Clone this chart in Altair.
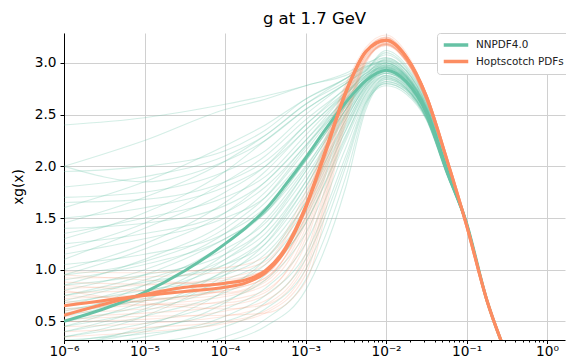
import altair as alt
import pandas as pd

# x nodes (momentum fraction) for replica curves
X_NODES = [1e-6, 1e-5, 1e-4, 3.162e-4, 1e-3, 3.162e-3, 5.623e-3, 1e-2,
           1.778e-2, 3.162e-2, 5.623e-2, 1e-1, 1.778e-1, 3.162e-1]

# denser x nodes for the central curves
X_NODES_C = [1e-6, 1e-5, 3.162e-5, 1e-4, 1.778e-4, 3.162e-4, 5.623e-4, 1e-3,
             1.778e-3, 3.162e-3, 5.623e-3, 1e-2, 1.778e-2, 3.162e-2, 5.623e-2,
             1e-1, 1.778e-1, 3.162e-1]

NNPDF_CENTRAL = [0.50, 0.78, 0.99, 1.25, 1.40, 1.58, 1.82, 2.08, 2.36, 2.62,
                 2.83, 2.93, 2.82, 2.52, 1.97, 1.45, 0.71, 0.17]
HOPT_CENTRAL_A = [0.56, 0.76, 0.83, 0.87, 0.90, 0.99, 1.21, 1.61, 2.16, 2.72,
                  3.11, 3.22, 3.06, 2.68, 2.08, 1.43, 0.71, 0.17]
HOPT_CENTRAL_B = [0.65, 0.75, 0.79, 0.83, 0.87, 0.97, 1.19, 1.59, 2.14, 2.71,
                  3.11, 3.22, 3.06, 2.68, 2.08, 1.43, 0.71, 0.17]

NNPDF_REPLICAS = [
    [2.40, 2.47, 2.60, 2.68, 2.78, 2.90, 3.00, 3.05, 2.93, 2.60, 2.01, 1.47, 0.72, 0.17],
    [2.00, 2.25, 2.55, 2.65, 2.78, 2.88, 2.97, 3.02, 2.90, 2.58, 2.00, 1.46, 0.72, 0.17],
    [2.00, 1.85, 2.05, 2.25, 2.55, 2.80, 2.93, 3.00, 2.88, 2.57, 2.00, 1.46, 0.72, 0.17],
    [1.60, 1.85, 2.20, 2.40, 2.65, 2.85, 2.98, 3.08, 2.95, 2.62, 2.02, 1.47, 0.73, 0.17],
    [1.45, 1.70, 2.05, 2.30, 2.60, 2.82, 2.95, 3.03, 2.92, 2.60, 2.01, 1.47, 0.72, 0.17],
    [1.80, 1.90, 2.10, 2.30, 2.60, 2.85, 2.96, 3.00, 2.87, 2.56, 1.99, 1.46, 0.72, 0.17],
    [1.30, 1.55, 1.95, 2.25, 2.55, 2.80, 2.92, 2.98, 2.86, 2.55, 1.99, 1.45, 0.72, 0.17],
    [1.20, 1.45, 1.85, 2.10, 2.45, 2.75, 2.90, 2.96, 2.85, 2.54, 1.98, 1.45, 0.72, 0.17],
    [1.10, 1.40, 1.75, 2.00, 2.40, 2.72, 2.88, 2.95, 2.84, 2.54, 1.98, 1.45, 0.72, 0.17],
    [1.00, 1.25, 1.65, 1.95, 2.35, 2.70, 2.86, 2.93, 2.82, 2.53, 1.97, 1.45, 0.71, 0.17],
    [0.95, 1.20, 1.55, 1.85, 2.25, 2.65, 2.84, 2.92, 2.81, 2.52, 1.97, 1.45, 0.71, 0.17],
    [0.85, 1.10, 1.45, 1.75, 2.20, 2.62, 2.83, 2.93, 2.82, 2.52, 1.97, 1.45, 0.71, 0.17],
    [0.80, 1.00, 1.35, 1.65, 2.10, 2.60, 2.82, 2.94, 2.83, 2.53, 1.97, 1.45, 0.71, 0.17],
    [0.75, 0.95, 1.30, 1.55, 2.05, 2.58, 2.80, 2.90, 2.80, 2.51, 1.96, 1.44, 0.71, 0.17],
    [0.70, 0.90, 1.20, 1.45, 1.95, 2.55, 2.80, 2.91, 2.80, 2.51, 1.96, 1.44, 0.71, 0.17],
    [0.65, 0.85, 1.10, 1.35, 1.85, 2.50, 2.78, 2.90, 2.79, 2.50, 1.96, 1.44, 0.71, 0.17],
    [0.60, 0.78, 1.05, 1.30, 1.80, 2.48, 2.76, 2.88, 2.78, 2.50, 1.95, 1.44, 0.71, 0.17],
    [0.55, 0.72, 0.98, 1.20, 1.70, 2.42, 2.74, 2.87, 2.77, 2.49, 1.95, 1.44, 0.71, 0.17],
    [0.50, 0.65, 0.90, 1.10, 1.60, 2.38, 2.72, 2.86, 2.76, 2.48, 1.95, 1.43, 0.71, 0.17],
    [0.45, 0.60, 0.85, 1.05, 1.55, 2.35, 2.70, 2.85, 2.76, 2.48, 1.94, 1.43, 0.71, 0.17],
    [0.40, 0.55, 0.78, 0.98, 1.45, 2.30, 2.68, 2.84, 2.75, 2.47, 1.94, 1.43, 0.70, 0.17],
    [0.35, 0.48, 0.70, 0.90, 1.35, 2.25, 2.66, 2.82, 2.74, 2.47, 1.94, 1.43, 0.70, 0.17],
    [0.30, 0.42, 0.62, 0.82, 1.25, 2.18, 2.64, 2.80, 2.72, 2.46, 1.93, 1.43, 0.70, 0.17],
    [0.25, 0.35, 0.55, 0.75, 1.15, 2.10, 2.62, 2.78, 2.70, 2.45, 1.93, 1.42, 0.70, 0.17],
    [0.20, 0.28, 0.45, 0.62, 1.00, 2.00, 2.60, 2.80, 2.72, 2.46, 1.93, 1.43, 0.70, 0.17],
    [0.15, 0.20, 0.35, 0.52, 0.90, 1.90, 2.58, 2.84, 2.75, 2.47, 1.94, 1.43, 0.70, 0.17],
    [1.50, 1.60, 1.80, 2.00, 2.35, 2.72, 2.90, 3.00, 2.88, 2.57, 2.00, 1.46, 0.72, 0.17],
    [1.35, 1.50, 1.70, 1.90, 2.30, 2.70, 2.88, 2.97, 2.86, 2.56, 1.99, 1.45, 0.72, 0.17],
    [1.70, 1.75, 1.95, 2.15, 2.50, 2.80, 2.94, 3.02, 2.90, 2.58, 2.00, 1.46, 0.72, 0.17],
    [0.90, 1.05, 1.30, 1.55, 2.00, 2.55, 2.82, 2.95, 2.84, 2.54, 1.98, 1.45, 0.71, 0.17],
    [0.55, 0.85, 1.25, 1.55, 2.05, 2.60, 2.85, 2.97, 2.86, 2.55, 1.98, 1.45, 0.71, 0.17],
    [0.45, 0.70, 1.10, 1.40, 1.95, 2.55, 2.84, 2.98, 2.87, 2.56, 1.99, 1.45, 0.72, 0.17],
    [0.75, 0.88, 1.05, 1.25, 1.75, 2.45, 2.78, 2.92, 2.81, 2.52, 1.96, 1.44, 0.71, 0.17],
    [0.62, 0.70, 0.82, 0.98, 1.50, 2.35, 2.74, 2.90, 2.80, 2.51, 1.96, 1.44, 0.71, 0.17],
    [1.05, 1.15, 1.35, 1.60, 2.05, 2.60, 2.86, 3.00, 2.88, 2.57, 1.99, 1.46, 0.72, 0.17],
    [1.25, 1.35, 1.55, 1.80, 2.20, 2.68, 2.92, 3.10, 2.96, 2.63, 2.02, 1.47, 0.73, 0.17],
    [0.35, 0.55, 0.95, 1.25, 1.80, 2.50, 2.80, 2.95, 2.84, 2.54, 1.98, 1.45, 0.71, 0.17],
    [0.25, 0.45, 0.80, 1.10, 1.65, 2.45, 2.78, 2.94, 2.83, 2.53, 1.97, 1.45, 0.71, 0.17],
    [0.68, 0.80, 0.95, 1.15, 1.65, 2.40, 2.76, 2.92, 2.81, 2.52, 1.97, 1.44, 0.71, 0.17],
    [0.85, 0.95, 1.15, 1.40, 1.90, 2.52, 2.82, 2.96, 2.85, 2.55, 1.98, 1.45, 0.71, 0.17],
    [0.10, 0.18, 0.30, 0.45, 0.80, 1.80, 2.55, 2.82, 2.74, 2.47, 1.94, 1.43, 0.70, 0.17],
    [1.95, 2.00, 2.15, 2.35, 2.65, 2.85, 2.96, 3.05, 2.93, 2.60, 2.01, 1.47, 0.72, 0.17],
    [1.15, 1.30, 1.50, 1.70, 2.15, 2.65, 2.88, 3.04, 2.92, 2.59, 2.01, 1.46, 0.72, 0.17],
    [0.40, 0.62, 1.00, 1.30, 1.85, 2.55, 2.84, 2.98, 2.87, 2.56, 1.99, 1.45, 0.72, 0.17],
    [0.28, 0.40, 0.68, 0.95, 1.45, 2.28, 2.70, 2.88, 2.78, 2.50, 1.95, 1.44, 0.71, 0.17],
    [1.65, 1.68, 1.85, 2.05, 2.40, 2.76, 2.93, 3.12, 2.98, 2.64, 2.03, 1.48, 0.73, 0.17],
    [0.58, 0.75, 1.15, 1.48, 1.98, 2.58, 2.83, 2.96, 2.85, 2.55, 1.98, 1.45, 0.71, 0.17],
    [0.95, 1.08, 1.40, 1.70, 2.18, 2.66, 2.87, 2.99, 2.87, 2.56, 1.99, 1.45, 0.72, 0.17],
    [0.32, 0.38, 0.50, 0.68, 1.10, 2.05, 2.62, 2.86, 2.76, 2.48, 1.94, 1.43, 0.70, 0.17],
    [1.40, 1.45, 1.62, 1.85, 2.25, 2.70, 2.90, 3.01, 2.89, 2.57, 2.00, 1.46, 0.72, 0.17],
]

HOPT_REPLICAS = [
    [0.98, 0.97, 1.02, 1.12, 1.75, 2.80, 3.15, 3.27, 3.10, 2.70, 2.10, 1.44, 0.72, 0.17],
    [0.92, 0.93, 0.98, 1.08, 1.70, 2.78, 3.13, 3.25, 3.08, 2.69, 2.09, 1.44, 0.72, 0.17],
    [0.88, 0.86, 0.92, 1.05, 1.68, 2.76, 3.12, 3.24, 3.07, 2.68, 2.09, 1.43, 0.71, 0.17],
    [0.82, 0.85, 0.90, 1.00, 1.60, 2.74, 3.11, 3.23, 3.06, 2.68, 2.08, 1.43, 0.71, 0.17],
    [0.78, 0.80, 0.86, 0.98, 1.55, 2.72, 3.10, 3.22, 3.06, 2.67, 2.08, 1.43, 0.71, 0.17],
    [0.75, 0.72, 0.80, 0.92, 1.50, 2.70, 3.09, 3.22, 3.05, 2.67, 2.08, 1.43, 0.71, 0.17],
    [0.72, 0.76, 0.83, 0.95, 1.58, 2.73, 3.10, 3.21, 3.05, 2.66, 2.07, 1.43, 0.71, 0.17],
    [0.68, 0.70, 0.76, 0.88, 1.45, 2.68, 3.08, 3.20, 3.04, 2.66, 2.07, 1.42, 0.71, 0.17],
    [0.62, 0.66, 0.74, 0.85, 1.40, 2.66, 3.07, 3.19, 3.03, 2.65, 2.07, 1.42, 0.70, 0.17],
    [0.58, 0.62, 0.70, 0.80, 1.30, 2.62, 3.06, 3.18, 3.03, 2.65, 2.06, 1.42, 0.70, 0.17],
    [0.55, 0.58, 0.65, 0.75, 1.25, 2.60, 3.05, 3.18, 3.02, 2.64, 2.06, 1.42, 0.70, 0.17],
    [0.50, 0.52, 0.60, 0.70, 1.15, 2.55, 3.04, 3.17, 3.02, 2.64, 2.06, 1.42, 0.70, 0.17],
    [0.45, 0.48, 0.55, 0.66, 1.10, 2.52, 3.03, 3.17, 3.01, 2.63, 2.05, 1.42, 0.70, 0.17],
    [0.40, 0.44, 0.50, 0.60, 1.00, 2.48, 3.02, 3.18, 3.02, 2.64, 2.06, 1.42, 0.70, 0.17],
    [0.35, 0.40, 0.48, 0.58, 0.95, 2.45, 3.01, 3.19, 3.03, 2.65, 2.07, 1.42, 0.70, 0.17],
    [0.85, 0.80, 0.78, 0.90, 1.52, 2.71, 3.10, 3.23, 3.06, 2.67, 2.08, 1.43, 0.71, 0.17],
    [0.65, 0.74, 0.88, 1.00, 1.62, 2.75, 3.12, 3.24, 3.07, 2.68, 2.08, 1.43, 0.71, 0.17],
    [0.95, 0.90, 0.85, 0.95, 1.58, 2.73, 3.11, 3.25, 3.08, 2.69, 2.09, 1.44, 0.72, 0.17],
    [0.60, 0.70, 0.80, 0.92, 1.48, 2.70, 3.09, 3.21, 3.05, 2.67, 2.08, 1.43, 0.71, 0.17],
    [0.70, 0.66, 0.68, 0.78, 1.35, 2.64, 3.07, 3.20, 3.04, 2.66, 2.07, 1.42, 0.71, 0.17],
    [0.52, 0.55, 0.56, 0.58, 0.88, 2.42, 3.00, 3.18, 3.02, 2.64, 2.06, 1.42, 0.70, 0.17],
    [0.80, 0.68, 0.62, 0.66, 1.05, 2.50, 3.03, 3.19, 3.03, 2.65, 2.07, 1.42, 0.70, 0.17],
]

SERIES = ["NNPDF4.0", "Hoptscotch PDFs"]
COLORS = ["#66c2a5", "#fc8d62"]

X_TICKS = [1e-6, 1e-5, 1e-4, 1e-3, 1e-2, 1e-1, 1e0]
X_MINOR_FACTORS = [2, 3, 4, 5, 6, 7, 8, 9]
Y_TICKS = [0.5, 1.0, 1.5, 2.0, 2.5, 3.0]


def long_table(xs, curves, prefix, label):
    rows = []
    for i, curve in enumerate(curves):
        for x, y in zip(xs, curve):
            rows.append({"x": x, "y": y, "id": f"{prefix}{i}", "set": label})
    return pd.DataFrame(rows)


rep_n = long_table(X_NODES, NNPDF_REPLICAS, "n", SERIES[0])
rep_h = long_table(X_NODES, HOPT_REPLICAS, "h", SERIES[1])
cen_n = long_table(X_NODES_C, [NNPDF_CENTRAL], "cn", SERIES[0])
cen_h = long_table(X_NODES_C, [HOPT_CENTRAL_A, HOPT_CENTRAL_B], "ch", SERIES[1])

tick_values = list(X_TICKS)
for d in X_TICKS[:-1]:
    tick_values += [f * d for f in X_MINOR_FACTORS]
tick_values = sorted(tick_values)

E = "round(log(datum.value)/LN10)"
IS_MAJOR = f"abs(log(datum.value)/LN10 - {E}) < 0.01"
sup = {-6: "⁻⁶", -5: "⁻⁵", -4: "⁻⁴", -3: "⁻³", -2: "⁻²", -1: "⁻¹", 0: "⁰"}
label_expr = f"!({IS_MAJOR}) ? '' : "
for k, s in sup.items():
    label_expr += f"{E} == {k} ? '10{s}' : "
label_expr += "''"

x_enc = alt.X(
    "x:Q",
    scale=alt.Scale(type="log", domain=[1e-6, 1.67], nice=False),
    axis=alt.Axis(
        values=tick_values,
        labelExpr=label_expr,
        title=None,
        labelFlush=False,
        labelOverlap=False,
        labelFontSize=13.7,
        labelColor="black",
        labelPadding=1,
        tickColor="black",
        tickSize={"condition": {"test": IS_MAJOR, "value": 3.5}, "value": 2},
        gridOpacity={"condition": {"test": IS_MAJOR, "value": 1}, "value": 0},
        domainColor="black",
    ),
)
y_enc = alt.Y(
    "y:Q",
    scale=alt.Scale(domain=[0.32, 3.29], nice=False, zero=False),
    axis=alt.Axis(
        values=Y_TICKS,
        format=".1f",
        title="xg(x)",
        titleFontSize=13.7,
        titleFontWeight="normal",
        titleColor="black",
        titleX=-46,
        titleY=153.5,
        titleAngle=270,
        titleBaseline="middle",
        titleAlign="center",
        labelFontSize=13.7,
        labelColor="black",
        labelPadding=4,
        tickColor="black",
        tickSize=4,
        domainColor="black",
    ),
)

color_scale = alt.Scale(domain=SERIES, range=COLORS)
legend = alt.Legend(
    title=None,
    orient="none",
    legendX=373,
    legendY=0,
    symbolType="stroke",
    symbolStrokeWidth=3.5,
    symbolSize=600,
    clipHeight=14,
    rowPadding=2.6,
    labelFontSize=10.4,
    labelColor="#222222",
    labelOffset=6,
    padding=5,
    strokeColor="#d0d0d0",
    fillColor="white",
    cornerRadius=3,
)

base_line = dict(interpolate="monotone", clip=True)

l_rep_n = alt.Chart(rep_n).mark_line(
    color=COLORS[0], strokeWidth=1.1, opacity=0.28, **base_line
).encode(x=x_enc, y=y_enc, detail="id:N")

l_rep_h = alt.Chart(rep_h).mark_line(
    color=COLORS[1], strokeWidth=1.1, opacity=0.2, **base_line
).encode(x="x:Q", y="y:Q", detail="id:N")

l_cen_n = alt.Chart(cen_n).mark_line(strokeWidth=3, **base_line).encode(
    x="x:Q", y="y:Q", detail="id:N",
    color=alt.Color("set:N", scale=color_scale, legend=legend),
)
l_cen_h = alt.Chart(cen_h).mark_line(strokeWidth=3, **base_line).encode(
    x="x:Q", y="y:Q", detail="id:N",
    color=alt.Color("set:N", scale=color_scale, legend=legend),
)

chart = (
    alt.layer(l_rep_n, l_rep_h, l_cen_n, l_cen_h)
    .properties(
        width=501,
        height=307,
        title=alt.TitleParams(
            "g at 1.7 GeV", fontSize=16.5, fontWeight="normal", color="black",
            anchor="middle", offset=5,
        ),
        autosize=alt.AutoSizeParams(type="none"),
        padding={"left": 64, "top": 33, "right": 1, "bottom": 18},
    )
    .configure(font="DejaVu Sans")
    .configure_view(strokeWidth=0)
    .configure_axis(gridColor="#d0d0d0", gridWidth=1, domainWidth=1, tickWidth=1)
)

chart.save("out.html", embed_options={"renderer": "svg", "actions": False})
